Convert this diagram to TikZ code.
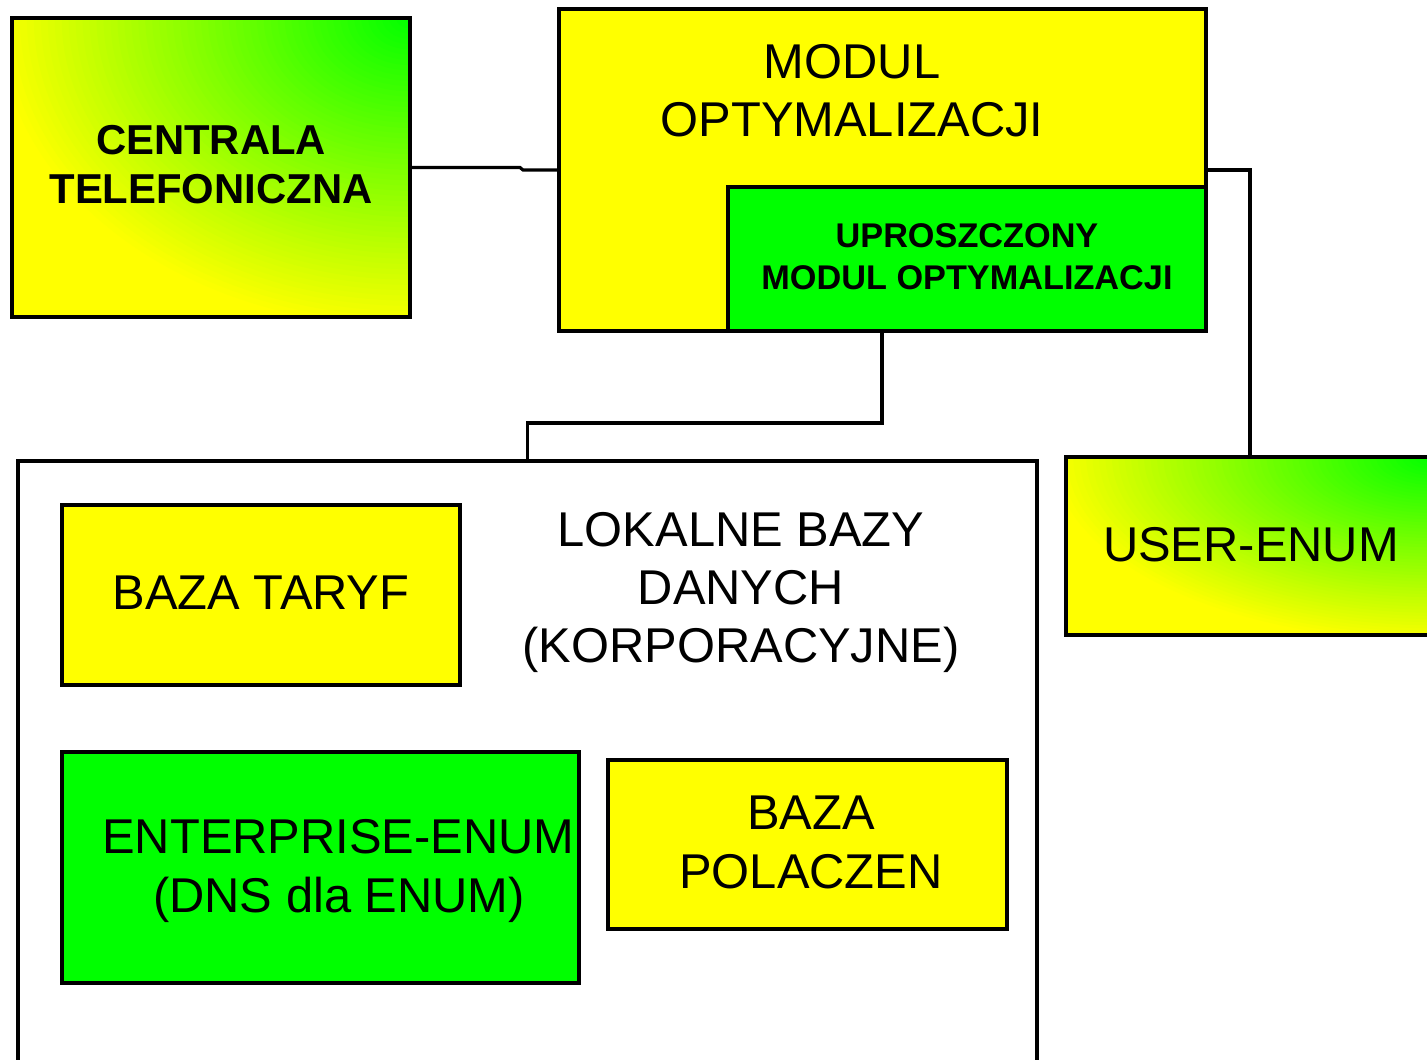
\documentclass[tikz,border=0pt]{standalone}
\usepackage{fontspec}
\setmainfont{Liberation Sans}
\definecolor{pyel}{RGB}{255,255,0}
\definecolor{pgrn}{RGB}{0,255,0}
\newcommand\pxu[1]{#1*0.02cm}
\begin{document}
\begin{tikzpicture}[x=0.02cm,y=-0.02cm,
  box/.style={draw=black,line width=2.2pt,inner sep=0pt,outer sep=0pt},
  yel/.style={fill=pyel},
  grn/.style={fill=pgrn},
  grad/.style 2 args={fill=pyel,path picture={
     \foreach \i in {60,59,...,1}{
       \pgfmathsetmacro\pct{100-100*\i/60}
       \pgfmathsetmacro\rxx{1.05*#1/60*\i}
       \pgfmathsetmacro\ryy{1.05*#2/60*\i}
       \fill[pgrn!\pct!pyel] (path picture bounding box.north east) ellipse [x radius=\rxx, y radius=\ryy];
     }}},
  conn/.style={draw=black,line width=1.8pt},
  big/.style={font=\fontsize{27.8}{33}\selectfont,anchor=base,inner sep=0pt},
  bmid/.style={font=\bfseries\fontsize{23.8}{28}\selectfont,anchor=base,inner sep=0pt},
  bsmall/.style={font=\bfseries\fontsize{19.5}{23}\selectfont,anchor=base,inner sep=0pt}]
\useasboundingbox (0,0) rectangle (1427,1060);
\clip (0,0) rectangle (1427,1060);
% boxes
\node[box,grad={398}{299},minimum width=\pxu{398},minimum height=\pxu{299}] (cen) at (211,167.5) {};
\node[box,yel,minimum width=\pxu{647},minimum height=\pxu{322}] (mod) at (882.5,170) {};
\node[box,grn,minimum width=\pxu{478},minimum height=\pxu{144}] (upr) at (967,259) {};
\node[box,fill=white,minimum width=\pxu{1019},minimum height=\pxu{614}] (lok) at (527.5,768) {};
\node[box,grad={368}{178},minimum width=\pxu{368},minimum height=\pxu{178}] (user) at (1250,546) {};
\node[box,yel,minimum width=\pxu{398},minimum height=\pxu{180}] (taryf) at (261,595) {};
\node[box,grn,minimum width=\pxu{517},minimum height=\pxu{231}] (ent) at (320.5,867.5) {};
\node[box,yel,minimum width=\pxu{399},minimum height=\pxu{169}] (pol) at (807.5,844.5) {};
% connectors
\draw[conn] (cen.east) -- (520,167.5) -- (523,170) -- (mod.west);
\draw[conn] (mod.east) -| (user.north);
\coordinate (j1) at (882,331);
\draw[conn] (j1) -- (882,423) -| (lok.north);
% texts
\node[bmid] (t1) at (211,155) {CENTRALA};
\node[bmid] (t2) at (211,204) {TELEFONICZNA};
\node[big] (t3) at (852,79) {MODUL};
\node[big] (t4) at (852,137) {OPTYMALIZACJI};
\node[bsmall] (t5) at (967,248) {UPROSZCZONY};
\node[bsmall] (t6) at (967,290) {MODUL OPTYMALIZACJI};
\node[big] (t7) at (1251,562) {USER-ENUM};
\node[big] (t8) at (261,610) {BAZA TARYF};
\node[big] (t9) at (741,546.5) {LOKALNE BAZY};
\node[big] (t10) at (741,604.5) {DANYCH};
\node[big] (t11) at (741,663) {(KORPORACYJNE)};
\node[big] (t12) at (338.5,853) {ENTERPRISE-ENUM};
\node[big] (t13) at (339,912) {(DNS dla ENUM)};
\node[big] (t14) at (811,829) {BAZA};
\node[big] (t15) at (811,888) {POLACZEN};
\end{tikzpicture}
\end{document}
